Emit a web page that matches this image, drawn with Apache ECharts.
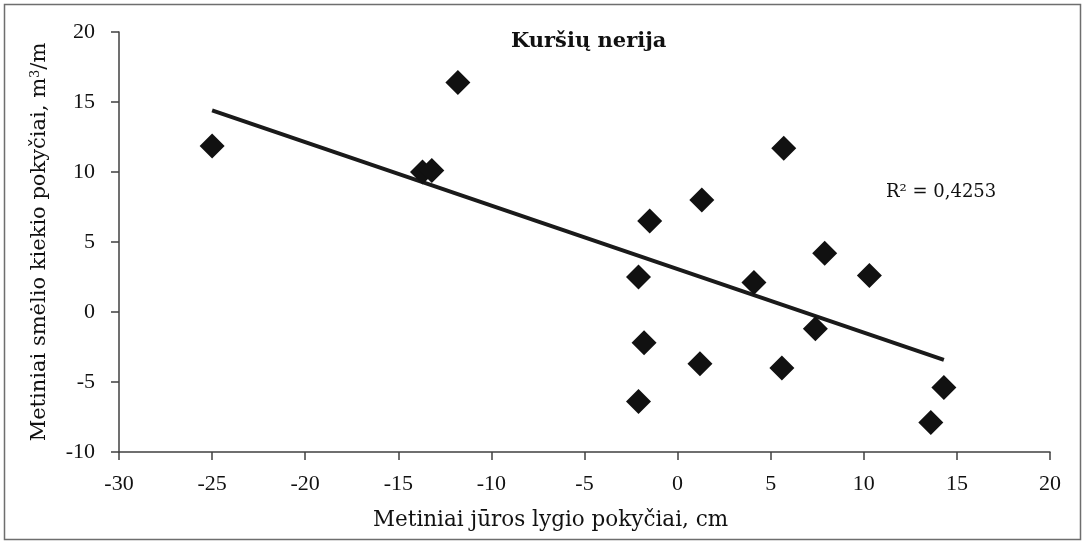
<!DOCTYPE html>
<html>
<head>
<meta charset="utf-8">
<script src="https://cdn.jsdelivr.net/npm/echarts@6/dist/echarts.min.js"></script>
<style>
html,body{margin:0;padding:0;background:#fff;}
#chart{width:1085px;height:544px;}
</style>
</head>
<body>
<div id="chart"></div>
<script>
// Data
const seaLevelChange = [-25.0, -13.7, -13.2, -11.8, -2.1, -2.1, -1.8, -1.5, 1.2, 1.3, 4.1, 5.6, 5.7, 7.4, 7.9, 10.3, 13.6, 14.3];
const sandChange     = [11.85, 10.0, 10.1, 16.4, 2.5, -6.4, -2.2, 6.5, -3.7, 8.0, 2.1, -4.0, 11.7, -1.2, 4.2, 2.6, -7.9, -5.4];
const chartTitle = 'Kuršių nerija';
const r2Label = 'R² = 0,4253';
const xAxisTitle = 'Metiniai jūros lygio pokyčiai, cm';
const yAxisTitle = 'Metiniai smėlio kiekio pokyčiai, m{sup|3}/m';

const points = seaLevelChange.map((x, i) => [x, sandChange[i]]);

// linear trendline (least squares) over data range
const n = points.length;
const mx = seaLevelChange.reduce((a, b) => a + b, 0) / n;
const my = sandChange.reduce((a, b) => a + b, 0) / n;
let sxy = 0, sxx = 0;
for (let i = 0; i < n; i++) { sxy += (seaLevelChange[i] - mx) * (sandChange[i] - my); sxx += (seaLevelChange[i] - mx) ** 2; }
const slope = sxy / sxx, intercept = my - slope * mx;
const xMin = Math.min(...seaLevelChange), xMax = Math.max(...seaLevelChange);
const trend = [[xMin, intercept + slope * xMin], [xMax, intercept + slope * xMax]];

const FONT = '"Liberation Serif", "DejaVu Serif", serif';
const WFONT = '"DejaVu Serif", "Liberation Serif", serif';
const chart = echarts.init(document.getElementById('chart'), null, {renderer: 'canvas'});
chart.setOption({
  animation: false,
  backgroundColor: '#fff',
  grid: {left: 119, right: 35, top: 32, bottom: 92, containLabel: false},
  xAxis: {
    type: 'value', min: -30, max: 20, interval: 5,
    axisLine: {show: true, onZero: false, lineStyle: {color: '#404040', width: 1.5}},
    axisTick: {show: true, inside: false, length: 8, lineStyle: {color: '#404040', width: 1.5}},
    axisLabel: {margin: 21, color: '#111', fontFamily: FONT, fontSize: 22},
    splitLine: {show: false}
  },
  yAxis: {
    type: 'value', min: -10, max: 20, interval: 5,
    axisLine: {show: true, onZero: false, lineStyle: {color: '#404040', width: 1.5}},
    axisTick: {show: true, inside: false, length: 8, lineStyle: {color: '#404040', width: 1.5}},
    axisLabel: {margin: 24, color: '#111', fontFamily: FONT, fontSize: 22},
    splitLine: {show: false},
    name: yAxisTitle,
    nameLocation: 'middle',
    nameGap: 68,
    nameTextStyle: {
      color: '#111', fontFamily: WFONT, fontSize: 21,
      rich: {sup: {fontFamily: WFONT, fontSize: 13, verticalAlign: 'top', color: '#111', padding: [0, 0, 9, 0]}}
    }
  },
  series: [
    {
      type: 'scatter', data: points, symbol: 'diamond', symbolSize: 25,
      itemStyle: {color: '#111', opacity: 1}, z: 3
    },
    {
      type: 'line', data: trend, showSymbol: false, symbol: 'none',
      lineStyle: {color: '#1a1a1a', width: 4}, z: 2
    }
  ],
  graphic: [
    {type: 'rect', shape: {x: 4.5, y: 4.5, width: 1076, height: 535}, style: {fill: 'none', stroke: '#6e6e6e', lineWidth: 1.5}, z: -1},
    {type: 'text', left: 511, top: 31, style: {text: chartTitle, font: 'bold 21px ' + WFONT, fill: '#111'}},
    {type: 'text', left: 886, top: 183, style: {text: r2Label, font: '18px ' + WFONT, fill: '#111'}},
    {type: 'text', left: 373, top: 509, style: {text: xAxisTitle, font: '21.5px ' + WFONT, fill: '#111'}}
  ]
});
</script>
</body>
</html>
